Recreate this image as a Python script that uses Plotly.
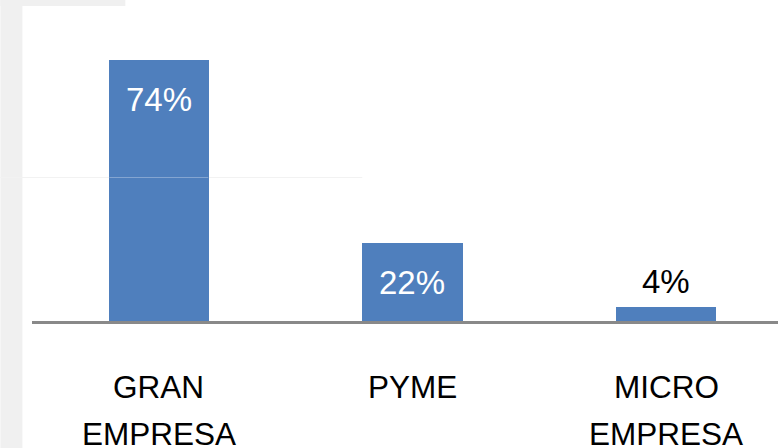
import plotly.graph_objects as go

categories = ["GRAN EMPRESA", "PYME", "MICRO EMPRESA"]
tick_lines = [["GRAN", "EMPRESA"], ["PYME"], ["MICRO", "EMPRESA"]]
values = [74, 22, 4]
labels = ["74%", "22%", "4%"]
inside = [True, True, False]

W_FIG, H_FIG = 778, 448
L, T = 31.6, 6
B_PX = 321  # pixel row of the zero line
plot_w = W_FIG - L
plot_h = B_PX - T
px_per_cat = 253.75
px_per_unit = 261 / 74.0

def px_to_paper_x(px):
    return (px - L) / plot_w

def px_to_paper_y(py):
    return (B_PX - py) / plot_h

BAR = "#4f7fbd"
FONT = "Liberation Sans, Arial, sans-serif"

fig = go.Figure()
fig.add_trace(go.Bar(
    x=categories, y=values,
    marker=dict(color=BAR, line=dict(width=0)),
    width=100.5 / px_per_cat,
    hoverinfo="skip",
))

annotations = []
for cat, v, lab, ins in zip(categories, values, labels, inside):
    annotations.append(dict(
        x=cat, y=v, xref="x", yref="y", text=lab, showarrow=False,
        xanchor="center", yanchor="middle",
        yshift=-39 if ins else 25,
        font=dict(family=FONT, size=33, color="#ffffff" if ins else "#000000"),
    ))

for cat, lines in zip(categories, tick_lines):
    for i, line in enumerate(lines):
        annotations.append(dict(
            x=cat, y=0, xref="x", yref="paper", text=line, showarrow=False,
            xanchor="center", yanchor="middle",
            yshift=-(386.5 - B_PX) - i * 47.7,
            font=dict(family=FONT, size=31.5, color="#000000"),
        ))

shapes = [
    # left gray strip
    dict(type="rect", xref="paper", yref="paper",
         x0=px_to_paper_x(0), x1=px_to_paper_x(22),
         y0=px_to_paper_y(H_FIG), y1=px_to_paper_y(0),
         fillcolor="#f0f0f0", line=dict(width=0), layer="below"),
    # top gray strip
    dict(type="rect", xref="paper", yref="paper",
         x0=px_to_paper_x(0), x1=px_to_paper_x(125),
         y0=px_to_paper_y(6), y1=px_to_paper_y(0),
         fillcolor="#f0f0f0", line=dict(width=0), layer="below"),
    # faint horizontal line
    dict(type="line", xref="paper", yref="paper",
         x0=px_to_paper_x(0), x1=px_to_paper_x(362),
         y0=px_to_paper_y(177.5), y1=px_to_paper_y(177.5),
         line=dict(color="#f2f2f2", width=1), layer="below"),
    dict(type="line", xref="paper", yref="paper",
         x0=px_to_paper_x(109), x1=px_to_paper_x(208),
         y0=px_to_paper_y(177.5), y1=px_to_paper_y(177.5),
         line=dict(color="rgba(255,255,255,0.3)", width=1), layer="above"),
]

fig.update_layout(
    width=W_FIG, height=H_FIG,
    margin=dict(l=L, r=0, t=T, b=H_FIG - B_PX, pad=0),
    paper_bgcolor="#ffffff", plot_bgcolor="#ffffff",
    showlegend=False,
    bargap=0,
    xaxis=dict(
        range=[-0.5, -0.5 + plot_w / px_per_cat],
        showticklabels=False, ticks="", showgrid=False, zeroline=False,
        showline=True, linecolor="#898989", linewidth=3,
        fixedrange=True,
    ),
    yaxis=dict(
        range=[0, plot_h / px_per_unit],
        showticklabels=False, ticks="", showgrid=False, zeroline=False,
        showline=False, fixedrange=True,
    ),
    annotations=annotations,
    shapes=shapes,
)

fig.write_html(
    "out.html",
    config={"displayModeBar": False},
    post_script="document.body.style.margin='0';document.body.style.overflow='hidden';",
)
